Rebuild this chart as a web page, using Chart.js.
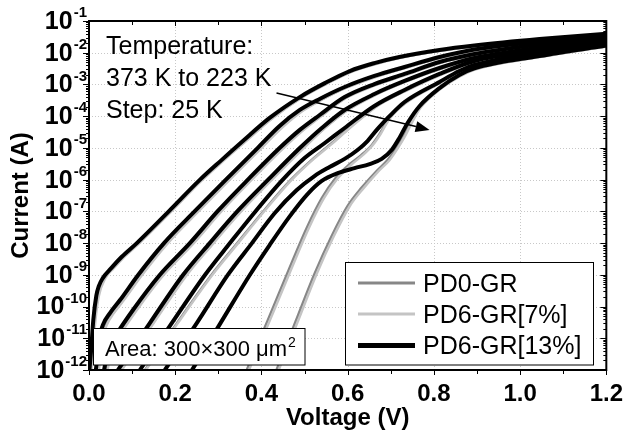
<!DOCTYPE html>
<html>
<head>
<meta charset="utf-8">
<title>I-V curves</title>
<script src="https://cdn.jsdelivr.net/npm/chart.js"></script>
<style>
  html, body { margin: 0; padding: 0; background: #fff; }
  canvas { display: block; }
</style>
</head>
<body>
<canvas id="ivChart" width="625" height="434"></canvas>
<script>
// values, each point is [voltage (V), current (A)]
const temperatures = [373, 348, 323, 298, 273, 248, 223];
const seriesNames = ['PD0-GR', 'PD6-GR[7%]', 'PD6-GR[13%]'];
const xTicks = [0, 0.2, 0.4, 0.6, 0.8, 1.0, 1.2];
const yTickExponents = [-1, -2, -3, -4, -5, -6, -7, -8, -9, -10, -11, -12];

// PD6-GR[13%] (black)
const pd13_373 = [[0.001,1e-12],[0.005,4.3e-12],[0.010,3.8e-11],[0.017,2.2e-10],[0.023,4.5e-10],[0.032,7.9e-10],[0.051,1.6e-9],[0.076,3.7e-9],[0.111,1.0e-8],[0.185,1.0e-7],[0.257,9.8e-7],[0.308,4.2e-6],[0.357,1.65e-5],[0.419,8.8e-5],[0.489,4.0e-4],[0.547,1.1e-3],[0.605,2.65e-3],[0.662,4.7e-3],[0.720,7.3e-3],[0.813,1.22e-2],[0.894,1.69e-2],[1.045,2.7e-2],[1.2,4.0e-2]];
const pd13_348 = [[0.016,1e-12],[0.023,8.8e-12],[0.032,2.6e-11],[0.049,6.3e-11],[0.072,1.6e-10],[0.114,9.9e-10],[0.174,1.0e-8],[0.246,1.03e-7],[0.317,9.8e-7],[0.391,9.9e-6],[0.442,4.9e-5],[0.489,1.57e-4],[0.535,3.5e-4],[0.593,8.3e-4],[0.662,1.85e-3],[0.732,3.55e-3],[0.813,7.3e-3],[0.894,1.26e-2],[1.045,2.26e-2],[1.2,3.5e-2]];
const pd13_323 = [[0.035,1e-12],[0.044,4.3e-12],[0.060,1.1e-11],[0.102,7.8e-11],[0.164,9.9e-10],[0.234,1.0e-8],[0.299,1.03e-7],[0.368,9.8e-7],[0.442,9.9e-6],[0.489,3.7e-5],[0.535,1.09e-4],[0.593,4.0e-4],[0.662,1.03e-3],[0.732,2.14e-3],[0.813,5.1e-3],[0.894,9.1e-3],[1.045,1.82e-2],[1.2,3.0e-2]];
const pd13_298 = [[0.067,1e-12],[0.141,3.0e-11],[0.218,9.9e-10],[0.280,1.0e-8],[0.345,1.03e-7],[0.415,9.8e-7],[0.489,9.9e-6],[0.540,4.25e-5],[0.593,1.57e-4],[0.662,5.0e-4],[0.732,1.29e-3],[0.813,3.3e-3],[0.894,6.8e-3],[1.045,1.46e-2],[1.2,2.6e-2]];
const pd13_273 = [[0.118,1e-12],[0.192,3.0e-11],[0.269,9.9e-10],[0.327,1.0e-8],[0.387,1.03e-7],[0.449,9.8e-7],[0.500,4.8e-6],[0.547,1.43e-5],[0.593,4.25e-5],[0.662,2.1e-4],[0.732,6.7e-4],[0.813,2.14e-3],[0.894,5.5e-3],[1.045,1.17e-2],[1.2,2.26e-2]];
const pd13_248 = [[0.176,1e-12],[0.250,3.0e-11],[0.322,9.9e-10],[0.378,1.0e-8],[0.431,8.9e-8],[0.482,4.7e-7],[0.523,1.3e-6],[0.558,2.5e-6],[0.593,4.5e-6],[0.623,8.6e-6],[0.646,1.65e-5],[0.669,3.9e-5],[0.697,1.0e-4],[0.732,2.8e-4],[0.813,1.2e-3],[0.859,2.65e-3],[0.894,4.1e-3],[1.045,9.8e-3],[1.2,1.95e-2]];
const pd13_223 = [[0.239,1e-12],[0.305,3.0e-11],[0.373,9.9e-10],[0.419,8.7e-9],[0.466,7.1e-8],[0.507,3.5e-7],[0.540,9.1e-7],[0.577,1.6e-6],[0.616,2.3e-6],[0.651,3.1e-6],[0.679,4.5e-6],[0.702,8.6e-6],[0.720,2.06e-5],[0.739,6.1e-5],[0.767,2.1e-4],[0.813,7.7e-4],[0.859,2.0e-3],[0.894,3.2e-3],[1.045,7.9e-3],[1.2,1.69e-2]];

// PD0-GR (dark grey)
const pd0_373 = [[0.004,1e-12],[0.013,3.8e-11],[0.021,2.2e-10],[0.036,7.9e-10],[0.055,1.6e-9],[0.080,3.7e-9],[0.115,1.0e-8],[0.189,1.0e-7],[0.261,9.8e-7],[0.312,4.2e-6],[0.361,1.6e-5],[0.423,8.5e-5],[0.493,3.9e-4],[0.550,1.05e-3],[0.608,2.55e-3],[0.665,4.5e-3],[0.722,7.0e-3],[0.814,1.16e-2],[0.895,1.6e-2],[1.045,2.55e-2],[1.2,3.8e-2]];
const pd0_348 = [[0.021,1e-12],[0.029,8.8e-12],[0.039,2.6e-11],[0.056,6.3e-11],[0.079,1.6e-10],[0.121,9.9e-10],[0.181,1.0e-8],[0.253,1.03e-7],[0.324,9.8e-7],[0.397,9.6e-6],[0.448,4.7e-5],[0.494,1.5e-4],[0.539,3.35e-4],[0.596,8.0e-4],[0.664,1.75e-3],[0.733,3.35e-3],[0.814,6.9e-3],[0.894,1.18e-2],[1.045,2.1e-2],[1.2,3.25e-2]];
const pd0_323 = [[0.041,1e-12],[0.051,4.3e-12],[0.067,1.1e-11],[0.109,7.8e-11],[0.171,9.9e-10],[0.241,1.0e-8],[0.306,1.03e-7],[0.375,9.8e-7],[0.448,9.6e-6],[0.494,3.55e-5],[0.539,1.05e-4],[0.596,3.85e-4],[0.664,9.7e-4],[0.733,2.0e-3],[0.814,4.8e-3],[0.894,8.5e-3],[1.045,1.7e-2],[1.2,2.8e-2]];
const pd0_298 = [[0.074,1e-12],[0.148,3.0e-11],[0.225,9.9e-10],[0.287,1.0e-8],[0.352,1.03e-7],[0.422,9.8e-7],[0.495,9.6e-6],[0.545,4.1e-5],[0.597,1.5e-4],[0.664,4.75e-4],[0.733,1.22e-3],[0.814,3.1e-3],[0.894,6.4e-3],[1.045,1.38e-2],[1.2,2.45e-2]];
const pd0_273 = [[0.130,1e-12],[0.204,3.0e-11],[0.284,9.9e-10],[0.344,1.0e-8],[0.405,1.03e-7],[0.468,9.8e-7],[0.520,4.6e-6],[0.562,1.38e-5],[0.602,4.1e-5],[0.665,2.0e-4],[0.733,6.3e-4],[0.814,2.0e-3],[0.894,5.2e-3],[1.045,1.1e-2],[1.2,2.1e-2]];
const pd0_248 = [[0.366,1e-12],[0.415,3.8e-11],[0.463,1.4e-9],[0.505,3.0e-8],[0.540,2.6e-7],[0.572,1.13e-6],[0.605,3.1e-6],[0.632,6.0e-6],[0.656,1.24e-5],[0.674,2.75e-5],[0.697,8.8e-5],[0.733,2.6e-4],[0.813,1.13e-3],[0.859,2.5e-3],[0.894,3.9e-3],[1.045,9.2e-3],[1.2,1.85e-2]];
const pd0_223 = [[0.435,1e-12],[0.479,3.3e-11],[0.523,1.06e-9],[0.563,1.67e-8],[0.600,1.48e-7],[0.632,5.5e-7],[0.665,1.74e-6],[0.693,4.2e-6],[0.713,9.9e-6],[0.730,2.4e-5],[0.744,5.7e-5],[0.767,1.8e-4],[0.813,7.2e-4],[0.859,1.85e-3],[0.894,3.0e-3],[1.045,7.4e-3],[1.2,1.6e-2]];

// PD6-GR[7%] (light grey)
const pd7_373 = [[0.006,1e-12],[0.015,3.8e-11],[0.023,2.2e-10],[0.038,7.9e-10],[0.057,1.6e-9],[0.082,3.7e-9],[0.117,1.0e-8],[0.191,1.0e-7],[0.263,9.8e-7],[0.314,4.2e-6],[0.363,1.6e-5],[0.425,8.5e-5],[0.494,3.9e-4],[0.551,1.05e-3],[0.609,2.5e-3],[0.666,4.4e-3],[0.723,6.9e-3],[0.815,1.15e-2],[0.895,1.58e-2],[1.045,2.5e-2],[1.2,3.75e-2]];
const pd7_348 = [[0.023,1e-12],[0.031,8.8e-12],[0.041,2.6e-11],[0.058,6.3e-11],[0.081,1.6e-10],[0.123,9.9e-10],[0.183,1.0e-8],[0.255,1.03e-7],[0.326,9.8e-7],[0.399,9.5e-6],[0.450,4.6e-5],[0.496,1.48e-4],[0.540,3.3e-4],[0.597,7.9e-4],[0.665,1.72e-3],[0.734,3.3e-3],[0.815,6.8e-3],[0.895,1.16e-2],[1.045,2.08e-2],[1.2,3.2e-2]];
const pd7_323 = [[0.043,1e-12],[0.053,4.3e-12],[0.069,1.1e-11],[0.111,7.8e-11],[0.173,9.9e-10],[0.243,1.0e-8],[0.308,1.03e-7],[0.377,9.8e-7],[0.450,9.5e-6],[0.496,3.5e-5],[0.540,1.03e-4],[0.597,3.8e-4],[0.665,9.5e-4],[0.734,1.97e-3],[0.815,4.75e-3],[0.895,8.4e-3],[1.045,1.68e-2],[1.2,2.75e-2]];
const pd7_298 = [[0.076,1e-12],[0.150,3.0e-11],[0.227,9.9e-10],[0.289,1.0e-8],[0.354,1.03e-7],[0.424,9.8e-7],[0.497,9.5e-6],[0.546,4.05e-5],[0.598,1.48e-4],[0.665,4.7e-4],[0.734,1.2e-3],[0.815,3.05e-3],[0.895,6.3e-3],[1.045,1.36e-2],[1.2,2.4e-2]];
const pd7_273 = [[0.132,1e-12],[0.206,3.0e-11],[0.286,9.9e-10],[0.346,1.0e-8],[0.407,1.03e-7],[0.470,9.8e-7],[0.522,4.6e-6],[0.564,1.36e-5],[0.603,4.0e-5],[0.666,1.97e-4],[0.734,6.2e-4],[0.815,1.97e-3],[0.895,5.1e-3],[1.045,1.08e-2],[1.2,2.08e-2]];
const pd7_248 = [[0.371,1e-12],[0.420,3.8e-11],[0.468,1.4e-9],[0.510,3.0e-8],[0.545,2.6e-7],[0.577,1.1e-6],[0.609,3.0e-6],[0.635,5.9e-6],[0.658,1.22e-5],[0.676,2.7e-5],[0.698,8.6e-5],[0.734,2.55e-4],[0.814,1.1e-3],[0.860,2.45e-3],[0.895,3.85e-3],[1.045,9.0e-3],[1.2,1.82e-2]];
const pd7_223 = [[0.440,1e-12],[0.484,3.3e-11],[0.528,1.06e-9],[0.568,1.67e-8],[0.605,1.48e-7],[0.637,5.4e-7],[0.669,1.7e-6],[0.697,4.1e-6],[0.716,9.7e-6],[0.733,2.35e-5],[0.747,5.6e-5],[0.768,1.77e-4],[0.814,7.0e-4],[0.860,1.8e-3],[0.895,2.95e-3],[1.045,7.3e-3],[1.2,1.57e-2]];

// temperature arrow, from / to in data units
const arrowFrom = [0.435, 5.4e-4];
const arrowTo = [0.790, 3.7e-5];

const pd0Curves = [pd0_373, pd0_348, pd0_323, pd0_298, pd0_273, pd0_248, pd0_223];
const pd7Curves = [pd7_373, pd7_348, pd7_323, pd7_298, pd7_273, pd7_248, pd7_223];
const pd13Curves = [pd13_373, pd13_348, pd13_323, pd13_298, pd13_273, pd13_248, pd13_223];

const FONT = '"Liberation Sans", Arial, Helvetica, sans-serif';
const seriesColors = ['#878787', '#c4c4c4', '#000000'];
const seriesWidths = [2.5, 2.5, 4];
const legendWidths = [3, 3, 5];

const datasets = [];
[pd0Curves, pd7Curves, pd13Curves].forEach((curves, s) => {
    curves.forEach((pts, k) => {
        datasets.push({
            label: seriesNames[s] + ' ' + temperatures[k] + ' K',
            data: pts.map(p => ({ x: p[0], y: p[1] })),
            borderColor: seriesColors[s],
            borderWidth: seriesWidths[s],
            pointRadius: 0,
            fill: false,
            cubicInterpolationMode: 'monotone',
            clip: 0,
            order: 3 - s
        });
    });
});

// grid, frame, ticks, y labels, notes and legend
const decor = {
    id: 'decor',
    beforeDatasetsDraw(chart) {
        const { ctx, chartArea: a, scales: { x, y } } = chart;
        ctx.save();
        ctx.strokeStyle = '#c8c8c8';
        ctx.lineWidth = 1;
        ctx.setLineDash([1, 2]);
        ctx.beginPath();
        xTicks.forEach(v => {
            const px = Math.round(x.getPixelForValue(v)) + 0.5;
            if (px > a.left + 2 && px < a.right - 2) {
                ctx.moveTo(px, a.top);
                ctx.lineTo(px, a.bottom);
            }
        });
        yTickExponents.forEach(e => {
            const py = Math.round(y.getPixelForValue(Math.pow(10, e))) + 0.5;
            if (py > a.top + 2 && py < a.bottom - 2) {
                ctx.moveTo(a.left, py);
                ctx.lineTo(a.right, py);
            }
        });
        ctx.stroke();
        ctx.restore();
    },
    afterDraw(chart) {
        const { ctx, chartArea: a, scales: { x, y } } = chart;
        ctx.save();

        // frame
        ctx.strokeStyle = '#000';
        ctx.lineWidth = 2;
        ctx.strokeRect(a.left, a.top, a.right - a.left, a.bottom - a.top);

        // ticks
        ctx.lineWidth = 1;
        ctx.beginPath();
        for (let k = 0; k <= 12; k++) {
            const px = Math.round(x.getPixelForValue(k / 10)) + 0.5;
            const len = k % 2 === 0 ? 5 : 4;
            ctx.moveTo(px, a.bottom); ctx.lineTo(px, a.bottom + len);
            ctx.moveTo(px, a.top); ctx.lineTo(px, a.top + len);
        }
        yTickExponents.forEach(e => {
            const py = Math.round(y.getPixelForValue(Math.pow(10, e))) + 0.5;
            ctx.moveTo(a.left, py); ctx.lineTo(a.left - 6, py);
            ctx.moveTo(a.right, py); ctx.lineTo(a.right - 6, py);
            if (e === -1) return;
            for (let m = 2; m <= 9; m++) {
                const pm = Math.round(y.getPixelForValue(m * Math.pow(10, e))) + 0.5;
                ctx.moveTo(a.left, pm); ctx.lineTo(a.left - 3, pm);
                ctx.moveTo(a.right, pm); ctx.lineTo(a.right - 3, pm);
            }
        });
        ctx.stroke();

        // y tick labels 10^n
        ctx.fillStyle = '#000';
        ctx.textAlign = 'right';
        ctx.textBaseline = 'middle';
        yTickExponents.forEach(e => {
            const py = y.getPixelForValue(Math.pow(10, e));
            const exp = String(e);
            ctx.font = 'bold 15px ' + FONT;
            const w = ctx.measureText(exp).width;
            ctx.fillText(exp, a.left - 2, py - 8);
            ctx.font = 'bold 25px ' + FONT;
            ctx.fillText('10', a.left - 3 - w, py + 1);
        });

        // temperature note
        ctx.textAlign = 'left';
        ctx.textBaseline = 'alphabetic';
        ctx.font = '25px ' + FONT;
        ctx.fillText('Temperature:', 106, 53.5);
        ctx.fillText('373 K to 223 K', 106, 86);
        ctx.fillText('Step: 25 K', 106, 117.5);

        // arrow
        const x1 = x.getPixelForValue(arrowFrom[0]), y1 = y.getPixelForValue(arrowFrom[1]);
        const x2 = x.getPixelForValue(arrowTo[0]), y2 = y.getPixelForValue(arrowTo[1]);
        const ang = Math.atan2(y2 - y1, x2 - x1);
        const head = 14, hw = 5.5;
        const bx = x2 - head * Math.cos(ang), by = y2 - head * Math.sin(ang);
        ctx.lineWidth = 1.5;
        ctx.beginPath();
        ctx.moveTo(x1, y1);
        ctx.lineTo(bx, by);
        ctx.stroke();
        ctx.beginPath();
        ctx.moveTo(x2, y2);
        ctx.lineTo(bx + hw * Math.sin(ang), by - hw * Math.cos(ang));
        ctx.lineTo(bx - hw * Math.sin(ang), by + hw * Math.cos(ang));
        ctx.closePath();
        ctx.fill();

        // area box
        ctx.lineWidth = 1;
        ctx.fillStyle = '#fff';
        ctx.fillRect(93.5, 328.5, 211.5, 36.5);
        ctx.strokeRect(93.5, 328.5, 211.5, 36.5);
        ctx.fillStyle = '#000';
        ctx.font = '22px ' + FONT;
        const areaText = 'Area: 300\u00d7300 \u03bcm';
        ctx.fillText(areaText, 105, 356);
        const aw = ctx.measureText(areaText).width;
        ctx.font = '14px ' + FONT;
        ctx.fillText('2', 105 + aw + 1, 347);

        // legend
        ctx.fillStyle = '#fff';
        ctx.fillRect(345.5, 262.5, 248, 102.5);
        ctx.strokeRect(345.5, 262.5, 248, 102.5);
        const rows = [283, 314, 345.5];
        ctx.font = '25px ' + FONT;
        seriesNames.forEach((name, s) => {
            ctx.strokeStyle = seriesColors[s];
            ctx.lineWidth = legendWidths[s];
            ctx.beginPath();
            ctx.moveTo(358, rows[s]);
            ctx.lineTo(415, rows[s]);
            ctx.stroke();
            ctx.fillStyle = '#000';
            ctx.fillText(name, 423, rows[s] + 8.5);
        });

        ctx.restore();
    }
};

new Chart(document.getElementById('ivChart'), {
    type: 'line',
    data: { datasets: datasets },
    options: {
        responsive: false,
        animation: false,
        devicePixelRatio: 1,
        layout: { padding: { left: 0, right: 18, top: 21, bottom: 0 } },
        plugins: {
            legend: { display: false },
            tooltip: { enabled: false }
        },
        scales: {
            x: {
                type: 'linear',
                min: 0,
                max: 1.2,
                grid: { display: false },
                border: { display: false },
                ticks: {
                    stepSize: 0.2,
                    autoSkip: false,
                    maxRotation: 0,
                    padding: 2,
                    color: '#000',
                    font: { family: FONT, size: 24, weight: 'bold' },
                    callback: v => Number(v).toFixed(1)
                },
                title: {
                    display: true,
                    text: 'Voltage (V)',
                    color: '#000',
                    font: { family: FONT, size: 24, weight: 'bold' },
                    padding: { top: 0, bottom: 1 }
                },
                afterFit: s => { s.height = 64; }
            },
            y: {
                type: 'logarithmic',
                min: 1e-12,
                max: 1e-1,
                grid: { display: false },
                border: { display: false },
                ticks: { display: false },
                title: {
                    display: true,
                    text: 'Current (A)',
                    color: '#000',
                    font: { family: FONT, size: 24, weight: 'bold' },
                    padding: { top: 7, bottom: 0 }
                },
                afterFit: s => { s.width = 89; }
            }
        }
    },
    plugins: [decor]
});
</script>
</body>
</html>
